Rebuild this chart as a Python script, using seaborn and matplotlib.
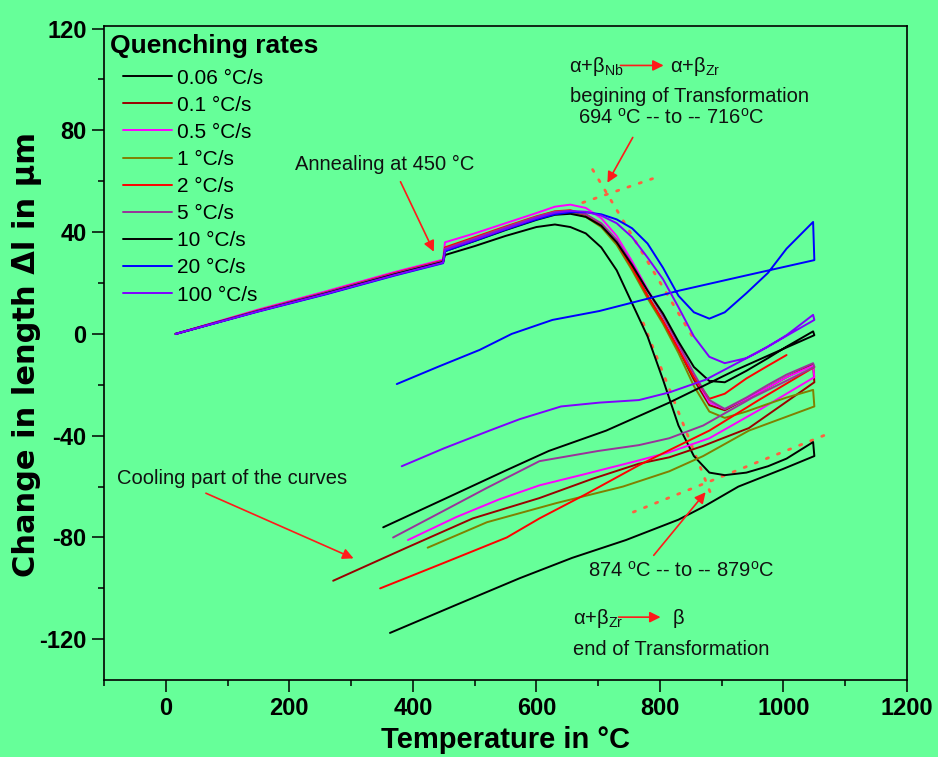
import numpy as np
import pandas as pd
import matplotlib
matplotlib.use("Agg")
import matplotlib.pyplot as plt
from matplotlib.ticker import MultipleLocator
import seaborn as sns

# ---------------------------------------------------------------- data
rates = ["0.06 °C/s", "0.1 °C/s", "0.5 °C/s", "1 °C/s", "2 °C/s",
         "5 °C/s", "10 °C/s", "20 °C/s", "100 °C/s"]
colors = ["#000000", "#990000", "#FF00FF", "#808000", "#FF0000",
          "#993399", "#000000", "#0000FF", "#8000FF"]

# heating run (°C) shared by every sample
heat_temp = [16, 150, 260, 370, 449, 452, 500, 550, 600, 630, 655, 680, 705,
             730, 755, 780, 805, 830, 855, 880, 905, 940, 975, 1005, 1048]

# change in length (µm) during heating
heat_006 = [0, 9.0, 15.8, 23.2, 28.2, 31.0, 34.5, 38.5, 42.0, 43.0, 42.0, 39.5, 34.0,
            25.0, 12.0, -1.0, -18.0, -36.0, -48.0, -54.5, -55.5, -54.5, -52.0, -49.0, -42.5]
heat_01 = [0, 9.2, 16.3, 23.7, 28.6, 33.5, 37.5, 41.8, 45.8, 47.8, 48.2, 46.8, 43.0,
           36.0, 26.0, 15.0, 5.0, -6.0, -18.0, -28.0, -30.0, -25.5, -21.0, -17.0, -12.0]
heat_05 = [0, 9.6, 16.8, 24.3, 29.2, 36.0, 39.5, 43.5, 47.5, 50.0, 50.8, 49.5, 45.5,
           38.5, 28.5, 17.5, 7.0, -4.5, -16.5, -27.0, -29.5, -25.5, -21.0, -17.0, -12.5]
heat_1 = [0, 9.1, 16.1, 23.5, 28.5, 33.0, 37.0, 41.2, 45.2, 47.2, 47.6, 46.0, 42.0,
          35.0, 25.0, 14.0, 4.0, -7.5, -20.5, -30.5, -33.0, -30.5, -27.5, -25.0, -22.0]
heat_2 = [0, 9.3, 16.4, 23.9, 28.8, 34.0, 38.0, 42.2, 46.2, 48.2, 48.6, 47.0, 43.0,
          36.0, 26.0, 15.0, 5.0, -6.0, -17.0, -25.5, -23.5, -17.5, -12.5, -8.3, np.nan]
heat_5 = [0, 9.2, 16.3, 23.7, 28.6, 33.5, 37.6, 41.9, 46.0, 48.0, 48.4, 47.0, 43.5,
          37.0, 27.5, 17.0, 7.0, -4.0, -15.5, -26.0, -29.5, -25.0, -20.0, -16.0, -11.5]
heat_10 = [0, 9.0, 16.0, 23.4, 28.3, 32.5, 36.5, 40.8, 44.8, 46.8, 47.2, 46.0, 42.5,
           36.0, 27.0, 17.0, 8.0, -3.0, -13.0, -18.5, -19.0, -14.5, -9.5, -5.0, 1.0]
heat_20 = [0, 8.8, 15.6, 22.9, 27.8, 32.5, 36.6, 41.0, 45.0, 47.0, 47.8, 47.8, 47.0,
           45.0, 41.5, 35.5, 26.0, 15.0, 8.5, 6.0, 8.5, 16.0, 24.0, 33.5, 44.0]
heat_100 = [0, 8.9, 15.8, 23.1, 28.0, 33.0, 37.0, 41.3, 45.5, 47.6, 48.3, 48.0, 46.5,
            43.5, 38.0, 30.0, 21.5, 10.5, -1.0, -9.0, -11.5, -9.5, -5.0, -0.5, 7.5]

# cooling runs: temperature (°C) and change in length (µm)
cool_temp_006 = [1050, 1000, 927, 870, 830, 745, 658, 573, 470, 363]
cool_006 = [-48, -53, -60, -68, -73, -81, -88, -96, -106.5, -117.5]
cool_temp_01 = [1050, 944, 870, 815, 766, 690, 605, 497, 390, 271]
cool_01 = [-19, -37, -44, -48.5, -51, -57, -64.5, -72.5, -84, -97]
cool_temp_05 = [1050, 960, 880, 815, 766, 680, 605, 540, 470, 392]
cool_05 = [-17, -30, -41, -46.5, -49.7, -55, -59.5, -65, -72, -81]
cool_temp_1 = [1050, 944, 870, 815, 740, 632, 520, 424]
cool_1 = [-28.5, -38, -48, -54, -60, -66.5, -74, -84]
cool_temp_2 = [1050, 960, 880, 815, 766, 680, 605, 552, 450, 347]
cool_2 = [-13, -26, -38, -45.7, -51.6, -63, -72.5, -80, -90, -100]
cool_temp_5 = [1050, 950, 870, 815, 766, 700, 605, 520, 450, 368]
cool_5 = [-13, -25, -36, -41, -43.7, -46, -50, -60.5, -69.5, -80]
cool_temp_10 = [1050, 980, 920, 874, 815, 713, 620, 552, 450, 352]
cool_10 = [-0.5, -8, -14.5, -20, -27, -38, -46, -53.5, -65, -76]
cool_temp_20 = [1050, 940, 831, 702, 626, 560, 508, 440, 374]
cool_20 = [29, 23, 17, 9, 5.5, 0, -6.3, -13, -19.7]
cool_temp_100 = [1050, 960, 874, 815, 766, 702, 640, 573, 524, 450, 382]
cool_100 = [5.5, -7, -18, -23, -26, -27, -28.5, -33.5, -38, -45, -52]

heating = [heat_006, heat_01, heat_05, heat_1, heat_2, heat_5, heat_10, heat_20, heat_100]
cooling_temp = [cool_temp_006, cool_temp_01, cool_temp_05, cool_temp_1, cool_temp_2,
                cool_temp_5, cool_temp_10, cool_temp_20, cool_temp_100]
cooling = [cool_006, cool_01, cool_05, cool_1, cool_2, cool_5, cool_10, cool_20, cool_100]

# tangent construction lines (°C, µm)
start_tangent_a = ([675, 788], [51.6, 61.0])
start_tangent_b = ([691, 854], [64.6, -1.6])
end_tangent_a = ([773, 882], [4.3, -62.6])
end_tangent_b = ([757, 1079], [-70.0, -38.6])

# ---------------------------------------------------------------- long table
rows = []
for rate, hv, ct, cv in zip(rates, heating, cooling_temp, cooling):
    seg = 0
    for t, v in list(zip(heat_temp, hv)) + list(zip(ct, cv)):
        if np.isnan(v):
            seg += 1
            continue
        rows.append({"rate": rate, "segment": seg, "temp": t, "dl": v})
df = pd.DataFrame(rows)

# ---------------------------------------------------------------- style
sns.set_theme(style="ticks")
plt.rcParams["font.family"] = ["Liberation Sans", "DejaVu Sans"]
plt.rcParams["mathtext.fontset"] = "custom"
plt.rcParams["mathtext.rm"] = "Liberation Sans"
plt.rcParams["mathtext.it"] = "Liberation Sans:italic"
plt.rcParams["mathtext.bf"] = "Liberation Sans:bold"
plt.rcParams["axes.unicode_minus"] = False
for key in ("text.color", "axes.labelcolor", "xtick.color", "ytick.color",
            "xtick.labelcolor", "ytick.labelcolor"):
    plt.rcParams[key] = "black"

bg = "#66FF99"
fig = plt.figure(figsize=(9.38, 7.57), dpi=100, facecolor=bg)
ax = fig.add_axes([104 / 938, 1 - 680 / 757, 803 / 938, 654 / 757])
ax.set_facecolor(bg)

sns.lineplot(data=df, x="temp", y="dl", hue="rate", hue_order=rates,
             palette=dict(zip(rates, colors)), units="segment", estimator=None,
             sort=False, linewidth=1.4, ax=ax)

dot_kw = dict(color="#FF6040", lw=2.0, linestyle=(0, (0.8, 3.5)),
              dash_capstyle="round", zorder=1)
for xs, ys in (start_tangent_a, start_tangent_b, end_tangent_a, end_tangent_b):
    ax.plot(xs, ys, **dot_kw)

ax.set_xlim(-100, 1200)
ax.set_ylim(-136, 121)
ax.xaxis.set_major_locator(MultipleLocator(200))
ax.xaxis.set_minor_locator(MultipleLocator(100))
ax.yaxis.set_major_locator(MultipleLocator(40))
ax.yaxis.set_minor_locator(MultipleLocator(20))
ax.tick_params(which="both", direction="out", top=False, right=False,
               width=1.1, color="black")
ax.tick_params(which="major", length=8.5, pad=4, labelsize=17)
ax.tick_params(which="minor", length=4.5)
for lab in ax.get_xticklabels() + ax.get_yticklabels():
    lab.set_fontweight("bold")
for sp in ax.spines.values():
    sp.set_linewidth(1.2)
    sp.set_color("black")

ax.set_xlabel("Temperature in °C", fontsize=21, fontweight="bold", labelpad=4)
ax.set_ylabel("Change in length Δl in μm", fontsize=22, fontweight="bold",
              family=["DejaVu Sans"])
ax.yaxis.set_label_coords(-0.077, 0.497)

# legend
sns.move_legend(ax, "upper left", bbox_to_anchor=(0.0237, 0.935), title=None,
                frameon=False, fontsize=15, handlelength=2.35, handletextpad=0.25,
                labelspacing=0.39, borderaxespad=0, borderpad=0)
for h in ax.get_legend().get_lines():
    h.set_linewidth(1.4)
ax.text(0.0075, 0.97, "Quenching rates", transform=ax.transAxes, ha="left",
        va="center", fontsize=19, fontweight="bold")

# annotations
arrow_kw = dict(arrowstyle="-|>", color="#FF1A1A", lw=1.2, mutation_scale=16,
                shrinkA=0, shrinkB=0)
txt = dict(fontsize=14.5, color="#111111")

ax.annotate("", xy=(434, 32.3), xytext=(380, 59.8), arrowprops=arrow_kw)
ax.text(210, 66.5, "Annealing at 450 °C", ha="left", va="center", **txt)

ax.annotate("", xy=(715, 59.4), xytext=(756, 77.2), arrowprops=arrow_kw)
ax.text(652, 103, "α+β$_{\\mathrm{Nb}}$", ha="left", va="baseline", **txt)
ax.annotate("", xy=(806, 105.5), xytext=(736, 105.5), arrowprops=arrow_kw)
ax.text(817, 103, "α+β$_{\\mathrm{Zr}}$", ha="left", va="baseline", **txt)
ax.text(655, 93.3, "begining of Transformation", ha="left", va="center", **txt)
ax.text(668, 85, "694 $^{\\mathrm{o}}$C -- to -- 716$^{\\mathrm{o}}$C",
        ha="left", va="center", **txt)

ax.annotate("", xy=(304, -88.2), xytext=(65, -62.6), arrowprops=arrow_kw)
ax.text(-79, -56.7, "Cooling part of the curves", ha="left", va="center", **txt)

ax.annotate("", xy=(874, -62.2), xytext=(790, -87), arrowprops=arrow_kw)
ax.text(683, -92.9, "874 $^{\\mathrm{o}}$C -- to -- 879$^{\\mathrm{o}}$C",
        ha="left", va="center", **txt)
ax.text(660, -113.8, "α+β$_{\\mathrm{Zr}}$", ha="left", va="baseline", **txt)
ax.annotate("", xy=(801, -111.3), xytext=(733, -111.3), arrowprops=arrow_kw)
ax.text(820, -113.8, "β", ha="left", va="baseline", **txt)
ax.text(660, -124, "end of Transformation", ha="left", va="center", **txt)

fig.savefig("out.png", dpi=100, facecolor=bg)
